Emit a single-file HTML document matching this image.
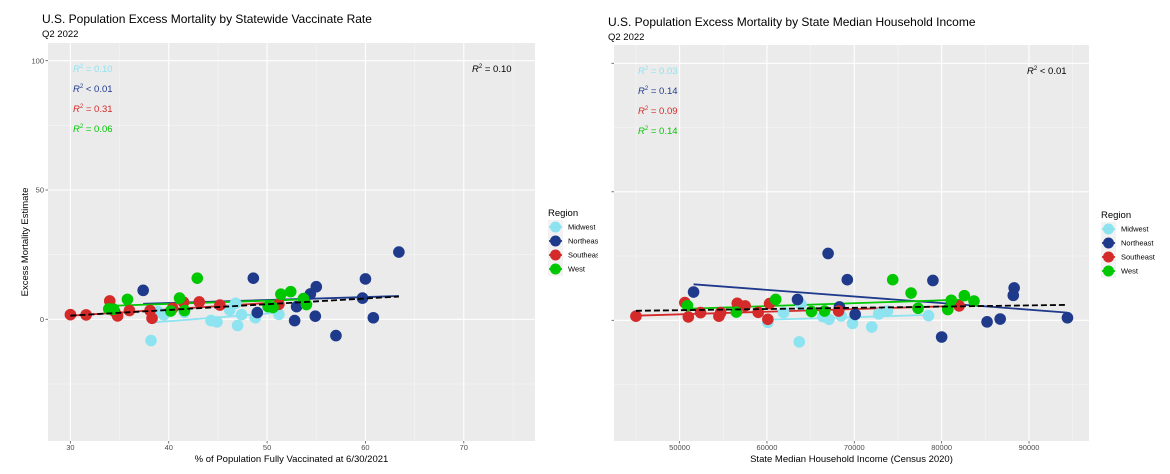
<!DOCTYPE html>
<html><head><meta charset="utf-8">
<style>
html,body{margin:0;padding:0;background:#fff;}
svg{display:block;font-family:"Liberation Sans",Arial,sans-serif;}
</style></head>
<body>
<svg id="chart" width="1170" height="474" viewBox="0 0 1170 474" xmlns="http://www.w3.org/2000/svg"></svg>
<script>
// ---------- data ----------
const regions = ["Midwest","Northeast","Southeast","West"];
const regionColors = ["#8de3f0","#1f3a8b","#d42a2a","#00c800"];

// Left panel: % vaccinated vs excess mortality
const vaxMidwestX = [38.2,38.9,39.5,41.6,44.3,44.9,46.2,46.8,47.0,47.4,48.8,51.2];
const vaxMidwestY = [-8.2,3.0,1.7,2.7,-0.5,-1.0,3.6,6.2,-2.4,1.8,0.6,1.9];
const vaxNortheastX = [37.4,48.6,49.0,52.8,53.0,54.4,55.0,54.9,57.0,59.7,60.0,60.8,63.4];
const vaxNortheastY = [11.2,15.9,2.6,-0.5,4.9,9.8,12.6,1.2,-6.3,8.2,15.6,0.6,26.0];
const vaxSoutheastX = [30.0,31.6,34.0,34.5,34.8,36.0,38.1,38.3,40.4,41.5,43.1,45.2,51.2];
const vaxSoutheastY = [1.8,1.7,7.1,3.0,1.3,3.4,3.4,0.4,4.3,6.6,6.7,5.5,5.8];
const vaxWestX = [33.9,34.4,35.8,40.2,41.1,41.6,42.9,50.1,50.6,51.4,52.4,53.7,54.0];
const vaxWestY = [4.0,3.9,7.7,3.2,8.2,3.4,15.9,4.9,4.6,9.7,10.7,8.0,5.7];
// fitted line endpoints [x0,y0,x1,y1]
const vaxFitMidwest = [38.5,-1.2,51.2,2.6];
const vaxFitNortheast = [37.4,6.0,63.4,9.0];
const vaxFitSoutheast = [30.0,1.4,51.2,6.6];
const vaxFitWest = [33.9,5.2,54.0,7.7];
const vaxFitAll = [30.0,1.4,63.4,8.8];
const vaxR2 = ["0.10","< 0.01","0.31","0.06"];
const vaxR2All = "= 0.10";
const vaxXTicks = [30,40,50,60,70];
const vaxYTicks = [0,50,100];

// Right panel: median income vs excess mortality
const incMidwestX = [60100,61900,63700,63900,66400,67100,68500,69800,72000,72800,73800,78500];
const incMidwestY = [-0.8,3.0,-8.4,6.2,1.4,0.4,1.7,-1.2,-2.6,2.5,3.6,1.8];
const incNortheastX = [51600,63500,67000,68300,69200,70100,79000,80000,85200,86700,88200,88300,94400];
const incNortheastY = [11.0,8.1,26.0,5.2,15.8,2.3,15.5,-6.5,-0.6,0.5,9.7,12.6,1.0];
const incSoutheastX = [45000,50600,51000,52400,54500,54700,56600,57500,59000,60100,60300,68200,82000];
const incSoutheastY = [1.6,6.9,1.3,3.0,1.6,3.0,6.6,5.6,3.1,0.4,6.5,3.6,5.6];
const incWestX = [50900,56500,61000,65100,66600,74400,76500,77300,80700,81100,82600,83700];
const incWestY = [5.7,3.2,8.1,3.4,3.6,15.8,10.6,4.7,4.2,7.8,9.6,7.5];
const incFitMidwest = [60100,0.2,78500,2.1];
const incFitNortheast = [51600,14.0,94400,3.0];
const incFitSoutheast = [45000,1.8,82000,5.6];
const incFitWest = [50900,4.5,83700,8.2];
const incFitAll = [45000,3.7,94400,6.0];
const incR2 = ["= 0.03","= 0.14","= 0.09","= 0.14"];
const incR2All = "< 0.01";
const incXTicks = [50000,60000,70000,80000,90000];
const incYTicks = [0,50,100];

// ---------- drawing ----------
const NS = "http://www.w3.org/2000/svg";
const svg = document.getElementById("chart");
function mk(tag, attrs, parent, text){
  const e = document.createElementNS(NS, tag);
  for (const k in attrs) e.setAttribute(k, attrs[k]);
  if (text !== undefined) e.textContent = text;
  (parent || svg).appendChild(e);
  return e;
}

function panel(cfg){
  const g = mk("g", {});
  
  
  const xs = v => cfg.px0 + (v - cfg.x0) / (cfg.x1 - cfg.x0) * (cfg.px1 - cfg.px0);
  const ys = v => cfg.py0 + (v - cfg.y0) / (cfg.y1 - cfg.y0) * (cfg.py1 - cfg.py0);
  // background
  const bg = mk("rect", {x:cfg.L, y:cfg.T, width:cfg.R-cfg.L, height:cfg.B-cfg.T, fill:"#ebebeb"}, g);
  
  
  // minor grid
  const xStep = cfg.xTicks[1]-cfg.xTicks[0];
  for (let v = cfg.xTicks[0]-xStep/2; xs(v) < cfg.R; v += xStep){
    if (xs(v) > cfg.L) mk("line", {x1:xs(v), x2:xs(v), y1:cfg.T, y2:cfg.B, stroke:"#f5f5f5", "stroke-width":0.6}, g);
  }
  for (let v = -25; ys(v) > cfg.T; v += 50){
    if (ys(v) < cfg.B) mk("line", {x1:cfg.L, x2:cfg.R, y1:ys(v), y2:ys(v), stroke:"#f5f5f5", "stroke-width":0.6}, g);
  }
  // major grid + ticks
  cfg.xTicks.forEach(v => {
    mk("line", {x1:xs(v), x2:xs(v), y1:cfg.T, y2:cfg.B, stroke:"#fff", "stroke-width":1.1}, g);
    mk("line", {x1:xs(v), x2:xs(v), y1:cfg.B, y2:cfg.B+2.5, stroke:"#555", "stroke-width":0.8}, g);
    const t = mk("text", {x:xs(v), y:cfg.B+9, "font-size":7.5, fill:"#4d4d4d", "text-anchor":"middle"}, g, String(v));
    
    
  });
  cfg.yTicks.forEach(v => {
    mk("line", {x1:cfg.L, x2:cfg.R, y1:ys(v), y2:ys(v), stroke:"#fff", "stroke-width":1.1}, g);
    mk("line", {x1:cfg.L-2.5, x2:cfg.L, y1:ys(v), y2:ys(v), stroke:"#555", "stroke-width":0.8}, g);
    if (cfg.showY){
      const t = mk("text", {x:cfg.L-4, y:ys(v)+2.6, "font-size":7.5, fill:"#4d4d4d", "text-anchor":"end"}, g, String(v));
      
      
    }
  });
  // fit lines
  cfg.fits.forEach((f, i) => {
    const l = mk("line", {x1:xs(f[0]), y1:ys(f[1]), x2:xs(f[2]), y2:ys(f[3]), stroke:regionColors[i], "stroke-width":1.8}, g);
    
    
  });
  // points
  cfg.series.forEach((s, i) => {
    s[0].forEach((xv, j) => {
      const c = mk("circle", {cx:xs(xv), cy:ys(s[1][j]), r:5.8, fill:regionColors[i]}, g);
      
      
    });
  });
  // overall dashed fit
  const fa = cfg.fitAll;
  const d = mk("line", {x1:xs(fa[0]), y1:ys(fa[1]), x2:xs(fa[2]), y2:ys(fa[3]), stroke:"#000", "stroke-width":1.8, "stroke-dasharray":"6,3"}, g);
  
  
  // R2 labels
  cfg.r2.forEach((r, i) => {
    const t = mk("text", {x:cfg.r2x, y:cfg.r2y + i*20, "font-size":9.5, fill:regionColors[i]}, g);
    
    
    mk("tspan", {"font-style":"italic"}, t, "R");
    mk("tspan", {dy:-4, "font-size":6}, t, "2");
    mk("tspan", {dy:4}, t, " " + r);
  });
  const ta = mk("text", {x:cfg.r2ax, y:cfg.r2y, "font-size":9.5, fill:"#000"}, g);
  
  
  mk("tspan", {"font-style":"italic"}, ta, "R");
  mk("tspan", {dy:-4, "font-size":6}, ta, "2");
  mk("tspan", {dy:4}, ta, " " + cfg.r2all);
  // titles
  const tt = mk("text", {x:cfg.L-6, y:cfg.titleY, "font-size":12, fill:"#000"}, g, cfg.title);
  
  
  const st = mk("text", {x:cfg.L-6, y:cfg.titleY+14, "font-size":9.5, fill:"#000"}, g, "Q2 2022");
  
  
  const xt = mk("text", {x:(cfg.L+cfg.R)/2, y:cfg.B+21, "font-size":9.5, fill:"#000", "text-anchor":"middle"}, g, cfg.xTitle);
  
  
  // legend
  const lg = mk("g", {}, g);
  
  
  mk("text", {x:cfg.legX, y:cfg.legY, "font-size":9.5, fill:"#000"}, lg, "Region");
  regions.forEach((r, i) => {
    const yy = cfg.legY + 11 + i*14;
    mk("rect", {x:cfg.legX, y:yy-7, width:15, height:14, fill:"#f2f2f2"}, lg);
    const c = mk("circle", {cx:cfg.legX+7.5, cy:yy, r:5.5, fill:regionColors[i]}, lg);
    
    
    mk("line", {x1:cfg.legX+1, x2:cfg.legX+14, y1:yy, y2:yy, stroke:regionColors[i], "stroke-width":1.8}, lg);
    const t = mk("text", {x:cfg.legX+20, y:yy+2.6, "font-size":7.5, fill:"#000"}, lg, r);
    
    
  });
}

panel({
  name:"vaccination-panel", L:48, R:535, T:43, B:441,
  x0:30, x1:70, px0:70.4, px1:463.8,
  y0:0, y1:100, py0:319.3, py1:60.7,
  xTicks:vaxXTicks, yTicks:vaxYTicks, showY:true,
  series:[[vaxMidwestX,vaxMidwestY],[vaxNortheastX,vaxNortheastY],[vaxSoutheastX,vaxSoutheastY],[vaxWestX,vaxWestY]],
  fits:[vaxFitMidwest,vaxFitNortheast,vaxFitSoutheast,vaxFitWest], fitAll:vaxFitAll,
  r2:vaxR2.map((r,i)=> i===1 ? r : "= "+r), r2all:vaxR2All, r2x:73, r2y:72, r2ax:472,
  title:"U.S. Population Excess Mortality by Statewide Vaccinate Rate", titleY:23,
  xTitle:"% of Population Fully Vaccinated at 6/30/2021", legX:548, legY:216
});
// y-axis title (left)
const yt = mk("text", {x:0, y:0, "font-size":9.5, fill:"#000", "text-anchor":"middle", transform:"translate(28,242) rotate(-90)"}, svg, "Excess Mortality Estimate");



// white cover for right figure
const cover = mk("rect", {x:598, y:0, width:572, height:474, fill:"#fff"});



panel({
  name:"income-panel", L:614, R:1089, T:45, B:441,
  x0:50000, x1:90000, px0:679.6, px1:1029,
  y0:0, y1:100, py0:320.3, py1:63.3,
  xTicks:incXTicks, yTicks:incYTicks, showY:false,
  series:[[incMidwestX,incMidwestY],[incNortheastX,incNortheastY],[incSoutheastX,incSoutheastY],[incWestX,incWestY]],
  fits:[incFitMidwest,incFitNortheast,incFitSoutheast,incFitWest], fitAll:incFitAll,
  r2:incR2, r2all:incR2All, r2x:638, r2y:74, r2ax:1027,
  title:"U.S. Population Excess Mortality by State Median Household Income", titleY:26,
  xTitle:"State Median Household Income (Census 2020)", legX:1101, legY:218
});
</script>
</body></html>
